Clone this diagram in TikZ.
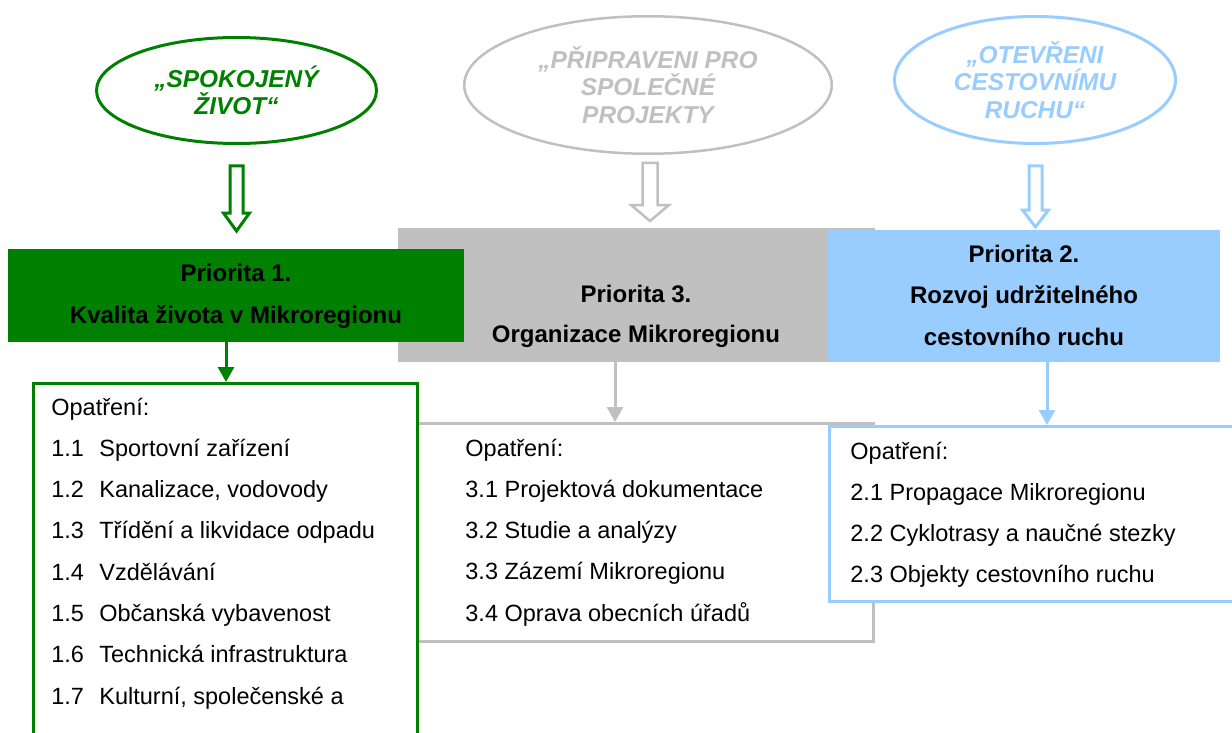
\documentclass[tikz,border=0pt]{standalone}
\usepackage{fontspec}
\setmainfont{Liberation Sans}
\usetikzlibrary{shapes.geometric,arrows.meta}
\definecolor{cgreen}{RGB}{0,128,0}
\definecolor{cgray}{RGB}{192,192,192}
\definecolor{cblue}{RGB}{153,204,255}
\tikzset{
  ell/.style={ellipse,draw,inner sep=0pt,align=center,
    font=\fontsize{12.2}{13.75}\selectfont\bfseries\itshape},
  hollow/.style={line width=1.5pt,fill=white},
  prio/.style={rectangle,draw=none,inner sep=0pt},
  ptext/.style={inner sep=0pt,anchor=base,text=black},
  mbox/.style={rectangle,draw,fill=white,line width=1.5pt,inner sep=0pt},
  mtext/.style={inner sep=0pt,anchor=base west,
    font=\fontsize{11.75}{20.65}\selectfont},
  conn/.style={line width=1.5pt,-{Triangle[width=8pt,length=7.5pt]}},
}
\begin{document}
\begin{tikzpicture}[x=0.5pt,y=-0.5pt]
\useasboundingbox (0,0) rectangle (1232,733);
\clip (0,0) rectangle (1232,733);
\fill[white] (0,0) rectangle (1232,733);

% ellipses
\node[ell,draw=cgreen,text=cgreen,line width=1.5pt,minimum width=140pt,minimum height=53pt]
  (e1) at (236.5,90.5) {„SPOKOJENÝ\\ŽIVOT“};
\node[ell,draw=cgray,text=cgray,line width=1.25pt,minimum width=183.75pt,minimum height=68.75pt]
  (e3) at (648,85) {„PŘIPRAVENI PRO\\SPOLEČNÉ\\PROJEKTY};
\node[ell,draw=cblue,text=cblue,line width=1.5pt,minimum width=140.5pt,minimum height=63.5pt]
  (e2) at (1035,80) {„OTEVŘENI\\CESTOVNÍMU\\RUCHU“};

% hollow arrows
\coordinate (h1) at (236.5,166);
\draw[hollow,draw=cgreen] (h1) ++(-6.5,0) -- ++(13,0) -- ++(0,47) -- ++(6.5,0)
  -- ++(-13,18) -- ++(-13,-18) -- ++(6.5,0) -- cycle;
\coordinate (h3) at (650,163);
\draw[hollow,draw=cgray,line width=1.25pt] (h3) ++(-7.5,0) -- ++(15,0) -- ++(0,42) -- ++(11.5,0)
  -- ++(-19,16) -- ++(-19,-16) -- ++(11.5,0) -- cycle;
\coordinate (h2) at (1035.5,166);
\draw[hollow,draw=cblue] (h2) ++(-6.5,0) -- ++(13,0) -- ++(0,44) -- ++(6.5,0)
  -- ++(-13,17) -- ++(-13,-17) -- ++(6.5,0) -- cycle;

% priority boxes
\node[prio,fill=cgray,minimum width=238.5pt,minimum height=67pt] (p3) at (636.5,295) {};
\node[prio,fill=cgreen,minimum width=228pt,minimum height=46.5pt] (p1) at (236,295.5) {};
\node[prio,fill=cblue,minimum width=196pt,minimum height=66pt] (p2) at (1024,296) {};

\node[ptext,font=\fontsize{12}{21}\selectfont\bfseries] (t1) at (236,281)
  {\begin{tabular}[t]{@{}c@{}}Priorita 1.\\Kvalita života v Mikroregionu\end{tabular}};
\node[ptext,font=\fontsize{12}{20}\selectfont\bfseries] (t3) at (636,302)
  {\begin{tabular}[t]{@{}c@{}}Priorita 3.\\Organizace Mikroregionu\end{tabular}};
\node[ptext,font=\fontsize{12}{20.75}\selectfont\bfseries] (t2) at (1024,262)
  {\begin{tabular}[t]{@{}c@{}}Priorita 2.\\Rozvoj udržitelného\\cestovního ruchu\end{tabular}};

% measure boxes
\node[mbox,draw=cgray,minimum width=228.5pt,minimum height=109pt] (m3) at (645,532.5) {};
\node[mbox,draw=cgreen,minimum width=192pt,minimum height=207.5pt] (m1) at (225.5,591) {};
\node[mbox,draw=cblue,minimum width=204.5pt,minimum height=87.5pt] (m2) at (1034,514) {};

% connectors
\coordinate (c1) at (226,0);
\coordinate (c3) at (615,0);
\coordinate (c2) at (1047,0);
\draw[conn,cgreen] (c1 |- p1.south) -- (c1 |- m1.north);
\draw[conn,cgray] (c3 |- p3.south) -- (c3 |- m3.north);
\draw[conn,cblue] (c2 |- p2.south) -- (c2 |- m2.north);

% measure texts
\node[mtext] (l1) at (51,415) {\begin{tabular}[t]{@{}l@{}}
Opatření:\\
\makebox[24pt][l]{1.1}Sportovní zařízení\\
\makebox[24pt][l]{1.2}Kanalizace, vodovody\\
\makebox[24pt][l]{1.3}Třídění a likvidace odpadu\\
\makebox[24pt][l]{1.4}Vzdělávání\\
\makebox[24pt][l]{1.5}Občanská vybavenost\\
\makebox[24pt][l]{1.6}Technická infrastruktura\\
\makebox[24pt][l]{1.7}Kulturní, společenské a
\end{tabular}};
\node[mtext] (l3) at (465,456) {\begin{tabular}[t]{@{}l@{}}
Opatření:\\
3.1 Projektová dokumentace\\
3.2 Studie a analýzy\\
3.3 Zázemí Mikroregionu\\
3.4 Oprava obecních úřadů
\end{tabular}};
\node[mtext,font=\fontsize{11.75}{20.6}\selectfont] (l2) at (850,459) {\begin{tabular}[t]{@{}l@{}}
Opatření:\\
2.1 Propagace Mikroregionu\\
2.2 Cyklotrasy a naučné stezky\\
2.3 Objekty cestovního ruchu
\end{tabular}};
\end{tikzpicture}
\end{document}
